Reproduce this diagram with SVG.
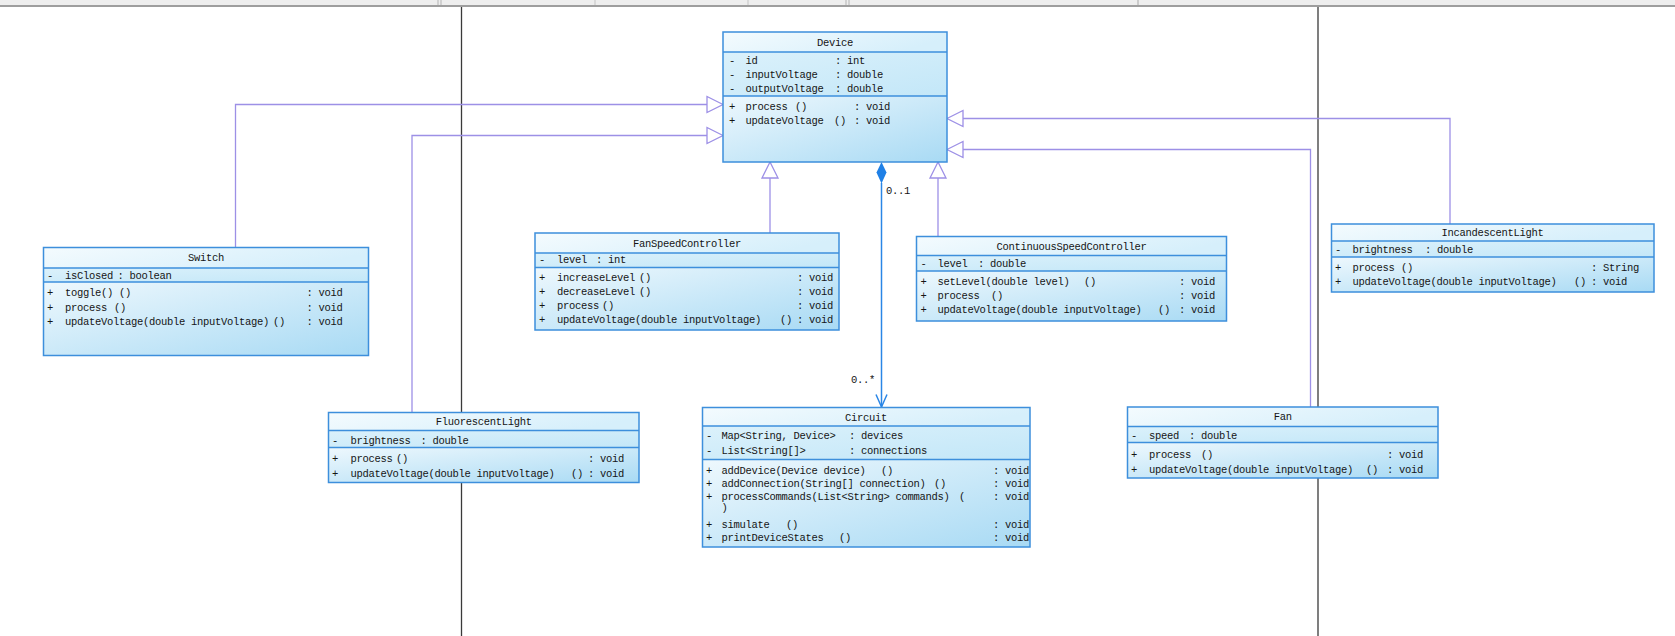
<svg xmlns="http://www.w3.org/2000/svg" width="1675" height="636" viewBox="0 0 1675 636">
<defs>
<linearGradient id="gh" x1="0" y1="0" x2="1" y2="0.3"><stop offset="0" stop-color="#f4fbfe"/><stop offset="1" stop-color="#d6effb"/></linearGradient>
<linearGradient id="ga" x1="0" y1="0" x2="1" y2="1"><stop offset="0" stop-color="#dbf1fb"/><stop offset="1" stop-color="#c3e7f8"/></linearGradient>
<linearGradient id="gm" x1="0" y1="0" x2="1" y2="1"><stop offset="0" stop-color="#eef8fd"/><stop offset="1" stop-color="#a8daf4"/></linearGradient>
<style>
.h{fill:url(#gh)}
.a{fill:url(#ga)}
.m{fill:url(#gm)}
.b{fill:none;stroke:#3d8fdc;stroke-width:1.5}
.s{stroke:#3d8fdc;stroke-width:1.3}
text{font-family:"Liberation Mono","DejaVu Sans Mono",monospace;font-size:10.5px;letter-spacing:-0.3px;fill:#151515}
.c{text-anchor:middle}
.g{fill:none;stroke:#9d90e6;stroke-width:1.3}
.tri{fill:#ffffff;stroke:#9d90e6;stroke-width:1.3}
.k{stroke:#3a3a3a;stroke-width:1.3}
.cl{fill:none;stroke:#2a86e6;stroke-width:1.5}
</style>
</defs>
<rect x="0" y="0" width="1675" height="636" fill="#ffffff"/>
<g id="topbar">
<rect x="0" y="0" width="1675" height="5" fill="#eeeeee"/>
<rect x="0" y="5" width="1675" height="2" fill="#9e9e9e"/>
<line x1="438" y1="0" x2="438" y2="5" stroke="#b4b4b4"/>
<line x1="441" y1="0" x2="441" y2="5" stroke="#b4b4b4"/>
<line x1="595" y1="0" x2="595" y2="5" stroke="#c4c4c4"/>
<line x1="748" y1="0" x2="748" y2="5" stroke="#c4c4c4"/>
<line x1="846" y1="0" x2="846" y2="5" stroke="#b4b4b4"/>
<line x1="849" y1="0" x2="849" y2="5" stroke="#b4b4b4"/>
<line x1="1138" y1="0" x2="1138" y2="5" stroke="#a8a8a8"/>
</g>
<g id="guides">
<line x1="461.5" y1="7" x2="461.5" y2="636" class="k"/>
<line x1="1318" y1="7" x2="1318" y2="636" class="k"/>
</g>
<g id="connectors">
<polyline points="235.5,247.5 235.5,104.5 707,104.5" class="g"/>
<polygon points="723,104.5 707,96.5 707,112.5" class="tri"/>
<polyline points="412,412.5 412,135.5 707,135.5" class="g"/>
<polygon points="723,135.5 707,127.5 707,143.5" class="tri"/>
<line x1="770" y1="233" x2="770" y2="178" class="g"/>
<polygon points="770,162 762,178 778,178" class="tri"/>
<line x1="938" y1="236.5" x2="938" y2="178" class="g"/>
<polygon points="938,162 930,178 946,178" class="tri"/>
<polyline points="1450,224 1450,118.5 963,118.5" class="g"/>
<polygon points="947,118.5 963,110.5 963,126.5" class="tri"/>
<polyline points="1310.5,407 1310.5,149.5 963,149.5" class="g"/>
<polygon points="947,149.5 963,141.5 963,157.5" class="tri"/>
<line x1="881.5" y1="183" x2="881.5" y2="407" class="cl"/>
<polygon points="881.5,162 886.5,172.5 881.5,183.5 876.5,172.5" fill="#1f80e6"/>
<polyline points="876,394.5 881.5,407 887,394.5" class="cl"/>
<text x="886" y="193.5">0..1</text>
<text x="851" y="383">0..*</text>
</g>
<g id="Device">
<rect x="723" y="32" width="224" height="20" class="h"/>
<rect x="723" y="52" width="224" height="44" class="a"/>
<rect x="723" y="96" width="224" height="66" class="m"/>
<rect x="723" y="32" width="224" height="130" class="b"/>
<line x1="723" y1="52" x2="947" y2="52" class="s"/>
<line x1="723" y1="96" x2="947" y2="96" class="s"/>
<text x="835" y="45.5" class="c">Device</text>
<text x="729" y="63.5">-</text><text x="745.5" y="63.5">id</text><text x="835" y="63.5">: int</text>
<text x="729" y="77.5">-</text><text x="745.5" y="77.5">inputVoltage</text><text x="835" y="77.5">: double</text>
<text x="729" y="91.5">-</text><text x="745.5" y="91.5">outputVoltage</text><text x="835" y="91.5">: double</text>
<text x="729" y="109.5">+</text><text x="745.5" y="109.5">process</text><text x="795" y="109.5">()</text><text x="854" y="109.5">: void</text>
<text x="729" y="123.5">+</text><text x="745.5" y="123.5">updateVoltage</text><text x="834" y="123.5">()</text><text x="854" y="123.5">: void</text>
</g>
<g id="Switch">
<rect x="43.5" y="247.5" width="325" height="20.5" class="h"/>
<rect x="43.5" y="268" width="325" height="14" class="a"/>
<rect x="43.5" y="282" width="325" height="73.5" class="m"/>
<rect x="43.5" y="247.5" width="325" height="108" class="b"/>
<line x1="43.5" y1="268" x2="368.5" y2="268" class="s"/>
<line x1="43.5" y1="282" x2="368.5" y2="282" class="s"/>
<text x="206" y="261" class="c">Switch</text>
<text x="47" y="278.5">-</text><text x="65" y="278.5">isClosed</text><text x="117.5" y="278.5">: boolean</text>
<text x="47" y="296">+</text><text x="65" y="296">toggle()</text><text x="119" y="296">()</text><text x="306.5" y="296">: void</text>
<text x="47" y="310.5">+</text><text x="65" y="310.5">process</text><text x="114" y="310.5">()</text><text x="306.5" y="310.5">: void</text>
<text x="47" y="325">+</text><text x="65" y="325">updateVoltage(double inputVoltage)</text><text x="273" y="325">()</text><text x="306.5" y="325">: void</text>
</g>
<g id="FanSpeedController">
<rect x="535" y="233" width="304" height="20" class="h"/>
<rect x="535" y="253" width="304" height="14.5" class="a"/>
<rect x="535" y="267.5" width="304" height="62.5" class="m"/>
<rect x="535" y="233" width="304" height="97" class="b"/>
<line x1="535" y1="253" x2="839" y2="253" class="s"/>
<line x1="535" y1="267.5" x2="839" y2="267.5" class="s"/>
<text x="687" y="246.5" class="c">FanSpeedController</text>
<text x="539" y="263">-</text><text x="557" y="263">level</text><text x="596" y="263">: int</text>
<text x="539" y="281">+</text><text x="557" y="281">increaseLevel</text><text x="639" y="281">()</text><text x="797" y="281">: void</text>
<text x="539" y="295">+</text><text x="557" y="295">decreaseLevel</text><text x="639" y="295">()</text><text x="797" y="295">: void</text>
<text x="539" y="309">+</text><text x="557" y="309">process</text><text x="602" y="309">()</text><text x="797" y="309">: void</text>
<text x="539" y="323">+</text><text x="557" y="323">updateVoltage(double inputVoltage)</text><text x="780" y="323">()</text><text x="797" y="323">: void</text>
</g>
<g id="ContinuousSpeedController">
<rect x="916.5" y="236.5" width="310" height="19" class="h"/>
<rect x="916.5" y="255.5" width="310" height="15.5" class="a"/>
<rect x="916.5" y="271" width="310" height="50" class="m"/>
<rect x="916.5" y="236.5" width="310" height="84.5" class="b"/>
<line x1="916.5" y1="255.5" x2="1226.5" y2="255.5" class="s"/>
<line x1="916.5" y1="271" x2="1226.5" y2="271" class="s"/>
<text x="1071.5" y="249.5" class="c">ContinuousSpeedController</text>
<text x="920.5" y="266.5">-</text><text x="937.5" y="266.5">level</text><text x="978" y="266.5">: double</text>
<text x="920.5" y="284.5">+</text><text x="937.5" y="284.5">setLevel(double level)</text><text x="1084" y="284.5">()</text><text x="1179" y="284.5">: void</text>
<text x="920.5" y="298.5">+</text><text x="937.5" y="298.5">process</text><text x="991" y="298.5">()</text><text x="1179" y="298.5">: void</text>
<text x="920.5" y="312.5">+</text><text x="937.5" y="312.5">updateVoltage(double inputVoltage)</text><text x="1158" y="312.5">()</text><text x="1179" y="312.5">: void</text>
</g>
<g id="IncandescentLight">
<rect x="1331.5" y="224" width="322.5" height="17" class="h"/>
<rect x="1331.5" y="241" width="322.5" height="16" class="a"/>
<rect x="1331.5" y="257" width="322.5" height="35" class="m"/>
<rect x="1331.5" y="224" width="322.5" height="68" class="b"/>
<line x1="1331.5" y1="241" x2="1654" y2="241" class="s"/>
<line x1="1331.5" y1="257" x2="1654" y2="257" class="s"/>
<text x="1492.5" y="236" class="c">IncandescentLight</text>
<text x="1335" y="253">-</text><text x="1352.5" y="253">brightness</text><text x="1425" y="253">: double</text>
<text x="1335" y="271">+</text><text x="1352.5" y="271">process</text><text x="1401" y="271">()</text><text x="1591" y="271">: String</text>
<text x="1335" y="285">+</text><text x="1352.5" y="285">updateVoltage(double inputVoltage)</text><text x="1574" y="285">()</text><text x="1591" y="285">: void</text>
</g>
<g id="FluorescentLight">
<rect x="328.5" y="412.5" width="310.5" height="18" class="h"/>
<rect x="328.5" y="430.5" width="310.5" height="17" class="a"/>
<rect x="328.5" y="447.5" width="310.5" height="35" class="m"/>
<rect x="328.5" y="412.5" width="310.5" height="70" class="b"/>
<line x1="328.5" y1="430.5" x2="639" y2="430.5" class="s"/>
<line x1="328.5" y1="447.5" x2="639" y2="447.5" class="s"/>
<text x="483.7" y="425" class="c">FluorescentLight</text>
<text x="332" y="443.5">-</text><text x="350.5" y="443.5">brightness</text><text x="420.5" y="443.5">: double</text>
<text x="332" y="461.8">+</text><text x="350.5" y="461.8">process</text><text x="396" y="461.8">()</text><text x="588" y="461.8">: void</text>
<text x="332" y="476.5">+</text><text x="350.5" y="476.5">updateVoltage(double inputVoltage)</text><text x="571" y="476.5">()</text><text x="588" y="476.5">: void</text>
</g>
<g id="Circuit">
<rect x="702.5" y="407.5" width="327.5" height="18.5" class="h"/>
<rect x="702.5" y="426" width="327.5" height="33.5" class="a"/>
<rect x="702.5" y="459.5" width="327.5" height="87.5" class="m"/>
<rect x="702.5" y="407.5" width="327.5" height="139.5" class="b"/>
<line x1="702.5" y1="426" x2="1030" y2="426" class="s"/>
<line x1="702.5" y1="459.5" x2="1030" y2="459.5" class="s"/>
<text x="866" y="420.5" class="c">Circuit</text>
<text x="706" y="439">-</text><text x="721.5" y="439">Map&lt;String, Device&gt;</text><text x="849" y="439">: devices</text>
<text x="706" y="453.5">-</text><text x="721.5" y="453.5">List&lt;String[]&gt;</text><text x="849" y="453.5">: connections</text>
<text x="706" y="473.5">+</text><text x="721.5" y="473.5">addDevice(Device device)</text><text x="881" y="473.5">()</text><text x="993" y="473.5">: void</text>
<text x="706" y="487">+</text><text x="721.5" y="487">addConnection(String[] connection)</text><text x="934" y="487">()</text><text x="993" y="487">: void</text>
<text x="706" y="500">+</text><text x="721.5" y="500">processCommands(List&lt;String&gt; commands)</text><text x="959" y="500">(</text><text x="993" y="500">: void</text>
<text x="721.5" y="511">)</text>
<text x="706" y="527.5">+</text><text x="721.5" y="527.5">simulate</text><text x="786" y="527.5">()</text><text x="993" y="527.5">: void</text>
<text x="706" y="541">+</text><text x="721.5" y="541">printDeviceStates</text><text x="839" y="541">()</text><text x="993" y="541">: void</text>
</g>
<g id="Fan">
<rect x="1127.5" y="407" width="310.5" height="19.5" class="h"/>
<rect x="1127.5" y="426.5" width="310.5" height="16" class="a"/>
<rect x="1127.5" y="442.5" width="310.5" height="35.5" class="m"/>
<rect x="1127.5" y="407" width="310.5" height="71" class="b"/>
<line x1="1127.5" y1="426.5" x2="1438" y2="426.5" class="s"/>
<line x1="1127.5" y1="442.5" x2="1438" y2="442.5" class="s"/>
<text x="1282.7" y="420.3" class="c">Fan</text>
<text x="1131" y="439">-</text><text x="1149" y="439">speed</text><text x="1189" y="439">: double</text>
<text x="1131" y="457.5">+</text><text x="1149" y="457.5">process</text><text x="1201" y="457.5">()</text><text x="1387" y="457.5">: void</text>
<text x="1131" y="472.5">+</text><text x="1149" y="472.5">updateVoltage(double inputVoltage)</text><text x="1366" y="472.5">()</text><text x="1387" y="472.5">: void</text>
</g>
</svg>
